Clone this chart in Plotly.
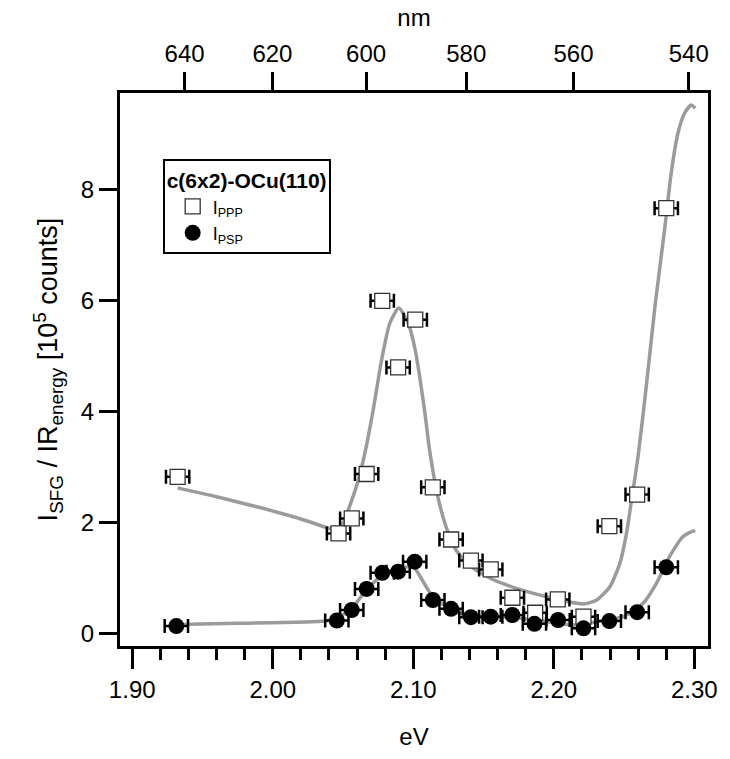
import plotly.graph_objects as go

# ---- data ----
ppp_ev = [1.9323, 2.0468, 2.0562, 2.0668, 2.0779, 2.0892, 2.1014, 2.1139, 2.1269,
          2.1410, 2.1551, 2.1705, 2.1867, 2.2028, 2.2211, 2.2395, 2.2593, 2.2800]
ppp_val = [2.82, 1.80, 2.07, 2.87, 5.99, 4.79, 5.65, 2.63, 1.69,
           1.31, 1.15, 0.64, 0.37, 0.61, 0.30, 1.93, 2.50, 7.66]

psp_ev = [1.9314, 2.0456, 2.0562, 2.0668, 2.0779, 2.0892, 2.1010, 2.1139, 2.1269,
          2.1410, 2.1551, 2.1705, 2.1862, 2.2030, 2.2211, 2.2395, 2.2593, 2.2800]
psp_val = [0.13, 0.23, 0.42, 0.80, 1.09, 1.11, 1.29, 0.60, 0.44,
           0.29, 0.30, 0.33, 0.17, 0.24, 0.09, 0.22, 0.38, 1.19]

ev_err = 0.0083

fit_ppp_ev = [1.9323, 1.96, 1.99, 2.02, 2.04, 2.045, 2.049, 2.0527, 2.0609, 2.066,
              2.0715, 2.0774, 2.0833, 2.0897, 2.0963, 2.1014, 2.108, 2.1116, 2.1175,
              2.1233, 2.1304, 2.141, 2.1575, 2.181, 2.2046, 2.2164, 2.222, 2.2305,
              2.2399, 2.247, 2.2517, 2.2553, 2.260, 2.266, 2.272, 2.2788, 2.2835,
              2.2883, 2.293, 2.2977, 2.3007]
fit_ppp_val = [2.62, 2.46, 2.27, 2.06, 1.89, 1.85, 1.92, 2.15, 2.76, 3.30,
               4.03, 4.92, 5.59, 5.86, 5.59, 5.10, 4.02, 3.30, 2.46,
               1.92, 1.50, 1.20, 0.96, 0.75, 0.60, 0.54, 0.53, 0.60,
               0.84, 1.26, 1.80, 2.40, 3.20, 4.50, 5.90, 7.27, 8.29,
               9.01, 9.37, 9.52, 9.46]

fit_psp_ev = [1.9314, 1.976, 2.0374, 2.045, 2.0562, 2.0633, 2.0703, 2.078, 2.0869,
              2.0975, 2.101, 2.1139, 2.1269, 2.141, 2.155, 2.17, 2.186, 2.203,
              2.2117, 2.221, 2.2305, 2.2494, 2.2635, 2.273, 2.2823, 2.2918, 2.2989, 2.3007]
fit_psp_val = [0.16, 0.18, 0.22, 0.27, 0.44, 0.68, 0.88, 1.04, 1.15,
               1.20, 1.17, 0.66, 0.43, 0.31, 0.30, 0.29, 0.24, 0.18,
               0.15, 0.16, 0.21, 0.30, 0.54, 0.90, 1.38, 1.74, 1.84, 1.84]

ev_ticks = [1.90, 2.00, 2.10, 2.20, 2.30]
y_ticks = [0, 2, 4, 6, 8]
nm_ticks = [640, 620, 600, 580, 560, 540]
HC = 1239.84  # eV*nm

x_range = [1.8913, 2.3097]
y_range = [-0.229, 9.735]

FONT = "Liberation Sans, Arial, sans-serif"
GRAY = "rgb(155,155,155)"

fig = go.Figure()

fig.add_trace(go.Scatter(x=fit_ppp_ev, y=fit_ppp_val, mode="lines",
                         line=dict(color=GRAY, width=3.5, shape="spline", smoothing=0.6),
                         showlegend=False, hoverinfo="skip"))
fig.add_trace(go.Scatter(x=fit_psp_ev, y=fit_psp_val, mode="lines",
                         line=dict(color=GRAY, width=3.5, shape="spline", smoothing=0.6),
                         showlegend=False, hoverinfo="skip"))

fig.add_trace(go.Scatter(
    x=ppp_ev, y=ppp_val, mode="markers", name="I<sub>PPP</sub>",
    marker=dict(symbol="square", size=15, color="white", line=dict(color="#333", width=1.3)),
    error_x=dict(type="constant", value=ev_err, color="black", thickness=2.5, width=7)))

fig.add_trace(go.Scatter(
    x=psp_ev, y=psp_val, mode="markers", name="I<sub>PSP</sub>",
    marker=dict(symbol="circle", size=16, color="black", line=dict(color="black", width=0)),
    error_x=dict(type="constant", value=ev_err, color="black", thickness=2.5, width=7)))

# invisible trace to carry the top (nm) axis
fig.add_trace(go.Scatter(x=[x_range[0]], y=[0], xaxis="x2", mode="markers",
                         marker=dict(opacity=0), showlegend=False, hoverinfo="skip"))

fig.update_layout(
    width=730, height=759,
    margin=dict(l=120, r=18, t=93, b=113),
    plot_bgcolor="white", paper_bgcolor="white",
    font=dict(family=FONT, size=24, color="black"),
    xaxis=dict(range=x_range, tickvals=ev_ticks, tickformat=".2f",
               showline=True, linewidth=3, linecolor="black",
               ticks="outside", ticklen=20, tickwidth=3, tickcolor="black",
               minor=dict(dtick=0.02, ticks="outside", ticklen=11, tickwidth=3, tickcolor="black"),
               showgrid=False, zeroline=False, tickfont=dict(size=24),
               title=dict(text="eV", font=dict(size=24), standoff=27)),
    xaxis2=dict(range=x_range, overlaying="x", side="top",
                tickvals=[HC / n for n in nm_ticks], ticktext=[str(n) for n in nm_ticks],
                showline=True, linewidth=3, linecolor="black",
                ticks="outside", ticklen=18, tickwidth=3, tickcolor="black",
                showgrid=False, zeroline=False, tickfont=dict(size=24),
                title=dict(text="nm", font=dict(size=24), standoff=8)),
    yaxis=dict(range=y_range, tickvals=y_ticks,
               showline=True, linewidth=3, linecolor="black", mirror=True,
               ticks="outside", ticklen=18, tickwidth=3, tickcolor="black",
               showgrid=False, zeroline=False, tickfont=dict(size=24),
               title=dict(text="I<sub>SFG</sub> / IR<sub>energy</sub> [10<sup>5</sup> counts]",
                          font=dict(size=27), standoff=16)),
    legend=dict(x=0.0726, y=0.8807, xanchor="left", yanchor="top",
                bordercolor="black", borderwidth=2, bgcolor="white",
                font=dict(size=18), indentation=8,
                title=dict(text="<b>c(6x2)-OCu(110)</b>", font=dict(size=21)),
                tracegroupgap=0, itemwidth=30),
)

fig.write_html("out.html")
